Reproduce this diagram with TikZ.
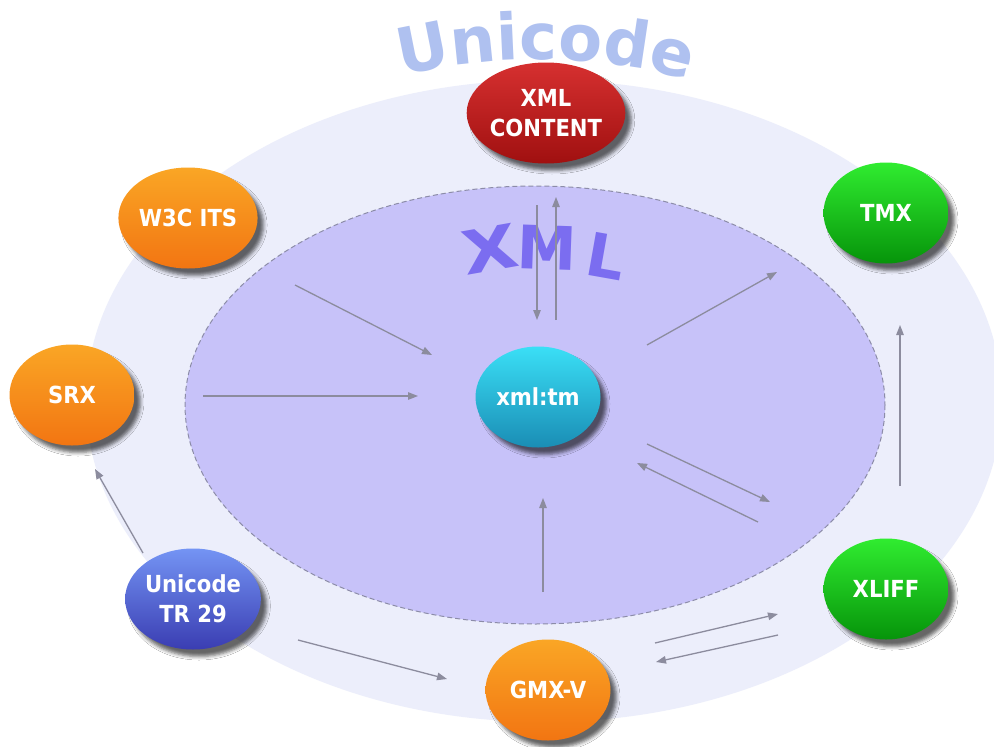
\documentclass[tikz,border=0pt]{standalone}
\usepackage{fontspec}
\setmainfont{DejaVu Sans}
\newfontfamily\bubblefont{DejaVu Sans Condensed}
\usetikzlibrary{shapes.geometric, arrows.meta, decorations.text, shadows.blur}

\definecolor{outerfill}{HTML}{ECEEFB}
\definecolor{innerfill}{HTML}{C7C2F9}
\definecolor{rimgray}{HTML}{8C8CA8}
\definecolor{arrowgray}{HTML}{8C8C9E}
\definecolor{titleblue}{HTML}{AFC1F0}
\definecolor{xmlviolet}{HTML}{7B6DF0}
\definecolor{orTop}{HTML}{FAA625}
\definecolor{orBot}{HTML}{F27512}
\definecolor{rdTop}{HTML}{D63030}
\definecolor{rdBot}{HTML}{A01010}
\definecolor{grTop}{HTML}{30EC30}
\definecolor{grBot}{HTML}{06940A}
\definecolor{cyTop}{HTML}{3ADFF6}
\definecolor{cyBot}{HTML}{1A8DB5}
\definecolor{blTop}{HTML}{7494F4}
\definecolor{blBot}{HTML}{3A3DB2}

\newcommand\unititle{\fontsize{64}{64}\selectfont\bfseries\color{titleblue}}

\tikzset{
  bubble/.style={ellipse, minimum width=125pt, minimum height=101pt, inner sep=0pt,
    text=white, align=center, font=\bubblefont\fontsize{23.5}{30}\selectfont\bfseries,
    blur shadow={shadow xshift=6pt, shadow yshift=-7pt, shadow blur radius=3.5pt, shadow opacity=60}},
  orangeball/.style={bubble, top color=orTop, bottom color=orBot},
  redball/.style={bubble, top color=rdTop, bottom color=rdBot},
  greenball/.style={bubble, top color=grTop, bottom color=grBot},
  cyanball/.style={bubble, top color=cyTop, bottom color=cyBot},
  blueball/.style={bubble, top color=blTop, bottom color=blBot},
  flow/.style={draw=arrowgray, line width=1.3pt, -{Triangle[length=10pt,width=7.5pt]}},
  bigletter/.style={text=xmlviolet, font=\fontsize{60}{60}\selectfont\bfseries, inner sep=0pt}
}

\begin{document}
\begin{tikzpicture}[x=1pt, y=-1pt]
\useasboundingbox (0,0) rectangle (994,747);
\fill[white] (0,0) rectangle (994,747);

% Unicode layer and XML layer
\fill[outerfill] (544,401) ellipse [x radius=458, y radius=321];
\filldraw[fill=innerfill, draw=rimgray, line width=1pt, dash pattern=on 5pt off 3pt]
  (535,405) ellipse [x radius=350, y radius=219];

% arched title
\path[decorate, decoration={text along path, text align=center, text={|\unititle|Unicode}}]
  (370,86) .. controls (465,50) and (625,50) .. (720,92);

% XML lettering
\node[bigletter, rotate=10, xscale=1.2] (xmlX) at (490,249) {X};
\node[bigletter, rotate=-2] (xmlM) at (547,248) {M};
\node[bigletter, rotate=-10] (xmlL) at (606,256) {L};

% standards
\node[redball]    (content) at (546,113) {XML\\CONTENT};
\node[orangeball] (its)     at (188,218) {W3C ITS};
\node[greenball]  (tmx)     at (886,213) {TMX};
\node[orangeball] (srx)     at (72,395)  {SRX};
\node[cyanball]   (xmltm)   at (538,397) {xml:tm};
\node[blueball]   (tr29)    at (193,599) {Unicode\\TR 29};
\node[greenball]  (xliff)   at (886,589) {XLIFF};
\node[orangeball] (gmxv)    at (548,690) {GMX-V};

% connector end points
\coordinate (itsA) at (295,285);   \coordinate (itsB) at (432,355);
\coordinate (srxA) at (203,396);   \coordinate (srxB) at (418,396);
\coordinate (cntA) at (537,205);   \coordinate (cntB) at (537,320);
\coordinate (cntC) at (556,320);   \coordinate (cntD) at (556,197);
\coordinate (tmxA) at (647,345);   \coordinate (tmxB) at (777,272);
\coordinate (xlfA) at (900,486);   \coordinate (xlfB) at (900,325);
\coordinate (tmlA) at (647,444);   \coordinate (tmlB) at (770,502);
\coordinate (tmlC) at (758,522);   \coordinate (tmlD) at (637,463);
\coordinate (gmxA) at (543,592);   \coordinate (gmxB) at (543,498);
\coordinate (trsA) at (143,553);   \coordinate (trsB) at (95,469);
\coordinate (trgA) at (298,640);   \coordinate (trgB) at (447,679);
\coordinate (gxlA) at (655,643);   \coordinate (gxlB) at (778,614);
\coordinate (gxlC) at (778,635);   \coordinate (gxlD) at (656,662);

\draw[flow] (itsA) -- (itsB);
\draw[flow] (srxA) -- (srxB);
\draw[flow] (cntA) -- (cntB);
\draw[flow] (cntC) -- (cntD);
\draw[flow] (tmxA) -- (tmxB);
\draw[flow] (xlfA) -- (xlfB);
\draw[flow] (tmlA) -- (tmlB);
\draw[flow] (tmlC) -- (tmlD);
\draw[flow] (gmxA) -- (gmxB);
\draw[flow] (trsA) -- (trsB);
\draw[flow] (trgA) -- (trgB);
\draw[flow] (gxlA) -- (gxlB);
\draw[flow] (gxlC) -- (gxlD);
\end{tikzpicture}
\end{document}
